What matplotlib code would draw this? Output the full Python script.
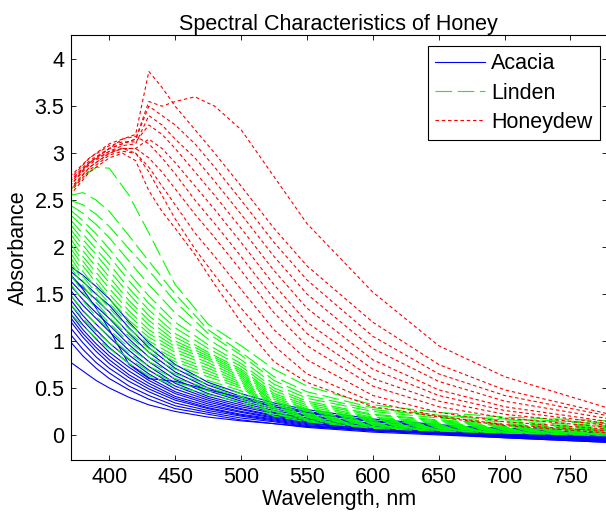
import matplotlib.pyplot as plt
from matplotlib.ticker import FormatStrFormatter

plt.rcParams['font.family'] = ['Liberation Sans', 'DejaVu Sans']
plt.rcParams['lines.scale_dashes'] = False

wl_s = [370, 380, 390, 400, 415, 430, 450, 475, 500, 525, 550, 600, 650, 700, 780]
wl_red = [370, 385, 400, 410, 420, 430, 440, 450, 465, 480, 500, 525, 550, 600, 650, 700, 780]

# Acacia (blue, solid)
acacia = [
    [1.80, 1.70, 1.58, 1.45, 1.20, 0.98, 0.75, 0.56, 0.44, 0.34, 0.27, 0.17, 0.11, 0.06, 0.02],
    [1.75, 1.63, 1.50, 1.38, 1.14, 0.93, 0.71, 0.53, 0.41, 0.32, 0.25, 0.15, 0.09, 0.05, 0.00],
    [1.70, 1.57, 1.44, 1.31, 1.08, 0.88, 0.67, 0.50, 0.38, 0.30, 0.23, 0.14, 0.08, 0.04, -0.01],
    [1.65, 1.50, 1.37, 1.24, 1.02, 0.83, 0.63, 0.47, 0.36, 0.28, 0.21, 0.12, 0.07, 0.03, -0.02],
    [1.60, 1.44, 1.30, 1.17, 0.96, 0.78, 0.59, 0.44, 0.34, 0.26, 0.20, 0.11, 0.06, 0.02, -0.03],
    [1.55, 1.38, 1.24, 1.10, 0.90, 0.73, 0.55, 0.41, 0.32, 0.24, 0.18, 0.10, 0.05, 0.01, -0.03],
    [1.50, 1.32, 1.18, 1.04, 0.85, 0.69, 0.52, 0.39, 0.30, 0.23, 0.17, 0.09, 0.05, 0.01, -0.04],
    [1.45, 1.27, 1.12, 0.98, 0.80, 0.65, 0.49, 0.37, 0.28, 0.21, 0.16, 0.08, 0.04, 0.00, -0.04],
    [1.40, 1.22, 1.07, 0.93, 0.76, 0.61, 0.46, 0.35, 0.27, 0.20, 0.15, 0.08, 0.04, 0.00, -0.05],
    [1.35, 1.17, 1.02, 0.88, 0.72, 0.58, 0.44, 0.33, 0.25, 0.19, 0.14, 0.07, 0.03, -0.01, -0.05],
    [1.30, 1.12, 0.97, 0.84, 0.68, 0.55, 0.41, 0.31, 0.24, 0.18, 0.13, 0.06, 0.03, -0.01, -0.06],
    [1.26, 1.08, 0.93, 0.80, 0.64, 0.52, 0.39, 0.29, 0.22, 0.17, 0.12, 0.06, 0.02, -0.02, -0.06],
    [1.22, 1.04, 0.89, 0.76, 0.61, 0.49, 0.37, 0.28, 0.21, 0.16, 0.11, 0.05, 0.02, -0.02, -0.07],
    [1.15, 0.98, 0.83, 0.71, 0.57, 0.46, 0.34, 0.26, 0.20, 0.15, 0.10, 0.05, 0.01, -0.02, -0.07],
    [1.08, 0.91, 0.77, 0.66, 0.52, 0.42, 0.31, 0.24, 0.18, 0.14, 0.09, 0.04, 0.01, -0.03, -0.08],
    [1.00, 0.84, 0.71, 0.60, 0.48, 0.38, 0.28, 0.22, 0.16, 0.12, 0.08, 0.03, 0.00, -0.03, -0.08],
    [0.78, 0.68, 0.58, 0.50, 0.40, 0.32, 0.25, 0.19, 0.15, 0.12, 0.09, 0.05, 0.02, -0.01, -0.05],
    [1.72, 1.55, 1.35, 1.12, 0.75, 0.60, 0.57, 0.48, 0.40, 0.30, 0.24, 0.15, 0.10, 0.07, 0.05],
]

# Linden (green, dashed)
linden = [
    [2.60, 2.75, 2.85, 2.84, 2.55, 2.15, 1.60, 1.18, 0.95, 0.70, 0.52, 0.32, 0.24, 0.19, 0.15],
    [2.55, 2.58, 2.50, 2.38, 2.12, 1.85, 1.50, 1.12, 0.88, 0.62, 0.46, 0.29, 0.21, 0.17, 0.13],
    [2.50, 2.45, 2.35, 2.22, 1.98, 1.75, 1.42, 1.08, 0.85, 0.58, 0.42, 0.27, 0.20, 0.16, 0.12],
    [2.45, 2.36, 2.24, 2.10, 1.85, 1.60, 1.30, 1.02, 0.80, 0.54, 0.39, 0.25, 0.18, 0.14, 0.10],
    [2.40, 2.28, 2.14, 1.98, 1.72, 1.48, 1.20, 0.96, 0.76, 0.50, 0.36, 0.22, 0.16, 0.12, 0.09],
    [2.35, 2.22, 2.06, 1.90, 1.64, 1.40, 1.14, 0.92, 0.73, 0.47, 0.34, 0.21, 0.15, 0.11, 0.08],
    [2.30, 2.14, 1.98, 1.82, 1.56, 1.33, 1.08, 0.88, 0.70, 0.44, 0.32, 0.19, 0.14, 0.10, 0.07],
    [2.25, 2.08, 1.92, 1.75, 1.50, 1.27, 1.04, 0.86, 0.68, 0.42, 0.30, 0.18, 0.13, 0.09, 0.06],
    [2.20, 2.02, 1.85, 1.68, 1.43, 1.22, 1.00, 0.84, 0.66, 0.40, 0.28, 0.17, 0.12, 0.09, 0.06],
    [2.15, 1.96, 1.79, 1.62, 1.38, 1.17, 0.97, 0.82, 0.64, 0.38, 0.27, 0.16, 0.11, 0.08, 0.05],
    [2.10, 1.90, 1.73, 1.56, 1.32, 1.12, 0.94, 0.80, 0.62, 0.36, 0.26, 0.15, 0.10, 0.07, 0.05],
    [2.05, 1.85, 1.67, 1.50, 1.27, 1.08, 0.91, 0.77, 0.60, 0.35, 0.25, 0.14, 0.10, 0.07, 0.04],
    [2.00, 1.80, 1.62, 1.45, 1.22, 1.04, 0.88, 0.74, 0.58, 0.33, 0.23, 0.13, 0.09, 0.06, 0.04],
    [1.95, 1.74, 1.56, 1.40, 1.18, 1.00, 0.84, 0.71, 0.56, 0.32, 0.22, 0.12, 0.08, 0.06, 0.03],
    [1.90, 1.69, 1.51, 1.35, 1.13, 0.96, 0.81, 0.68, 0.54, 0.30, 0.21, 0.12, 0.08, 0.05, 0.03],
    [1.85, 1.64, 1.46, 1.30, 1.09, 0.92, 0.78, 0.65, 0.52, 0.29, 0.20, 0.11, 0.07, 0.05, 0.02],
    [1.80, 1.59, 1.41, 1.25, 1.05, 0.88, 0.74, 0.62, 0.50, 0.28, 0.19, 0.10, 0.07, 0.04, 0.02],
    [1.72, 1.52, 1.34, 1.19, 0.99, 0.83, 0.70, 0.58, 0.47, 0.26, 0.18, 0.10, 0.06, 0.04, 0.01],
    [1.62, 1.43, 1.26, 1.12, 0.93, 0.78, 0.65, 0.54, 0.44, 0.25, 0.17, 0.09, 0.06, 0.03, 0.01],
    [1.50, 1.33, 1.18, 1.05, 0.87, 0.73, 0.60, 0.50, 0.41, 0.23, 0.16, 0.08, 0.05, 0.03, 0.00],
    [1.40, 1.24, 1.10, 0.98, 0.81, 0.68, 0.56, 0.47, 0.38, 0.22, 0.15, 0.08, 0.05, 0.02, 0.00],
    [1.30, 1.16, 1.03, 0.92, 0.76, 0.63, 0.52, 0.43, 0.35, 0.20, 0.14, 0.07, 0.04, 0.02, -0.01],
]

# Honeydew (red, dotted)
honeydew = [
    [2.70, 2.90, 3.05, 3.10, 3.15, 3.55, 3.50, 3.55, 3.60, 3.50, 3.25, 2.75, 2.25, 1.52, 0.95, 0.62, 0.28],
    [2.75, 2.95, 3.10, 3.15, 3.20, 3.87, 3.70, 3.50, 3.25, 3.00, 2.65, 2.20, 1.80, 1.20, 0.75, 0.48, 0.22],
    [2.70, 2.92, 3.05, 3.10, 3.15, 3.50, 3.40, 3.30, 3.10, 2.85, 2.50, 2.05, 1.65, 1.05, 0.65, 0.42, 0.20],
    [2.65, 2.90, 3.02, 3.08, 3.10, 3.40, 3.30, 3.15, 2.95, 2.70, 2.35, 1.90, 1.50, 0.92, 0.57, 0.36, 0.17],
    [2.72, 2.95, 3.08, 3.12, 3.12, 3.30, 3.20, 3.05, 2.80, 2.55, 2.20, 1.75, 1.35, 0.80, 0.48, 0.30, 0.14],
    [2.60, 2.85, 3.00, 3.05, 3.05, 3.15, 3.05, 2.90, 2.65, 2.40, 2.05, 1.60, 1.20, 0.70, 0.42, 0.26, 0.12],
    [2.68, 2.90, 3.05, 3.15, 3.18, 3.10, 2.95, 2.78, 2.50, 2.25, 1.90, 1.45, 1.08, 0.60, 0.36, 0.22, 0.10],
    [2.62, 2.85, 3.00, 3.05, 3.05, 2.95, 2.80, 2.62, 2.35, 2.10, 1.75, 1.30, 0.95, 0.52, 0.30, 0.18, 0.08],
    [2.58, 2.82, 2.98, 3.02, 3.00, 2.85, 2.65, 2.45, 2.15, 1.90, 1.55, 1.12, 0.80, 0.42, 0.24, 0.14, 0.06],
    [2.65, 2.88, 3.02, 3.05, 3.00, 2.80, 2.55, 2.30, 1.98, 1.70, 1.35, 0.95, 0.65, 0.35, 0.20, 0.11, 0.04],
    [2.55, 2.80, 2.95, 3.00, 2.92, 2.60, 2.38, 2.20, 1.92, 1.60, 1.20, 0.78, 0.56, 0.30, 0.19, 0.10, 0.02],
]

fs = 15.5
fig = plt.figure(figsize=(6.06, 5.15), dpi=100)
ax = fig.add_axes([70.7 / 606, 1 - 460.3 / 515, (607 - 70.7) / 606, (460.3 - 35.3) / 515])

lw = 0.8
for i, y in enumerate(acacia):
    ax.plot(wl_s, y, color='blue', lw=lw, label='Acacia' if i == 0 else None)
for i, y in enumerate(linden):
    ax.plot(wl_s, y, color=(0, 1, 0), lw=lw, dashes=(12, 4), label='Linden' if i == 0 else None)
for i, y in enumerate(honeydew):
    ax.plot(wl_red, y, color='red', lw=lw, dashes=(2.5, 2), label='Honeydew' if i == 0 else None)

ax.set_xlim(370.7, 777.7)
ax.set_ylim(-0.27, 4.255)
ax.set_xticks(range(400, 751, 50))
ax.set_yticks([0, 0.5, 1, 1.5, 2, 2.5, 3, 3.5, 4])
ax.yaxis.set_major_formatter(FormatStrFormatter('%g'))
ax.tick_params(direction='in', length=3.3, width=0.6, top=True, right=True,
               labelsize=fs, pad=4.5)
for s in ax.spines.values():
    s.set_linewidth(0.8)

ax.set_title('Spectral Characteristics of Honey', fontsize=fs, pad=4)
ax.set_xlabel('Wavelength, nm', fontsize=fs, labelpad=1)
ax.set_ylabel('Absorbance', fontsize=fs, labelpad=4)

leg = ax.legend(loc='upper right', bbox_to_anchor=(0.987, 0.975), borderaxespad=0,
                fontsize=fs, handlelength=2.3, handletextpad=0.3, labelspacing=0.38,
                fancybox=False, framealpha=1, edgecolor='black', borderpad=0.35)
leg.get_frame().set_linewidth(0.8)

fig.savefig('out.png', dpi=100)
